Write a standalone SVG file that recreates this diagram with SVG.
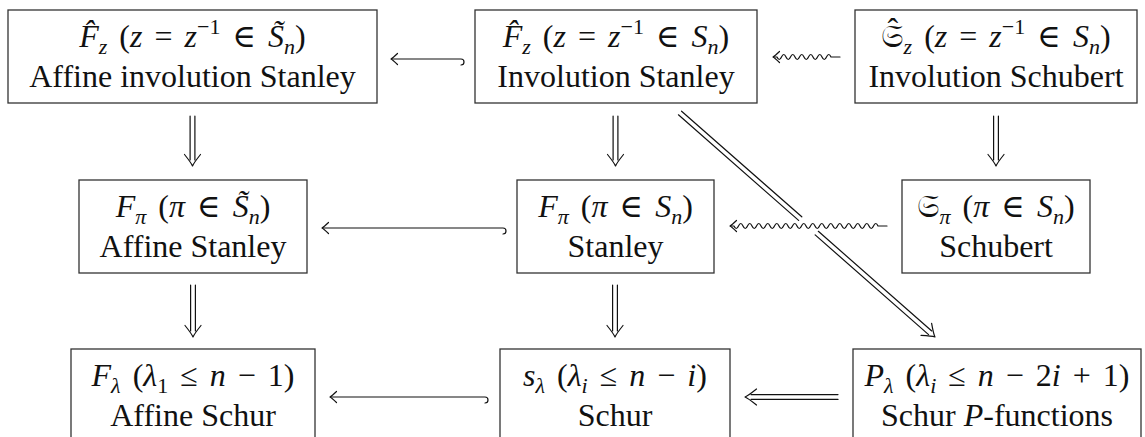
<svg xmlns="http://www.w3.org/2000/svg" xmlns:xlink="http://www.w3.org/1999/xlink" width="1145" height="437" viewBox="0 0 1145 437">
<style>
.box{fill:#fff;stroke:#333;stroke-width:1.3}
.t{font-family:"Liberation Serif","DejaVu Serif",serif;font-size:32px;fill:#111;text-anchor:middle}
.i{font-style:italic}
.sb{font-size:22px}
.fr{font-family:"DejaVu Sans","Noto Sans","DejaVu Serif",serif;font-style:normal}
.a{fill:none;stroke:#111;stroke-width:1.2;stroke-linecap:round;stroke-linejoin:round}
</style>
<defs>
<path id="sh" d="M -6.5,-5.5 Q -1.5,-0.8 0,0 Q -1.5,0.8 -6.5,5.5" class="a"/>
<path id="dh" d="M -11.5,-8 Q -3,-1.2 0,0 Q -3,1.2 -11.5,8" class="a"/>
</defs>
<rect width="1145" height="437" fill="#fff"/>
<g id="connectors">
<g id="e-b2-b1"><path class="a" d="M 391.5,59 H 461 a 3,3 0 0 1 0,6"/><use xlink:href="#sh" transform="translate(391,59) rotate(180)"/></g>
<g id="e-b3-b2"><path class="a" d="M 840,57 H 831 q -2.25,-5 -4.5,0 t -4.5,0 t -4.5,0 t -4.5,0 t -4.5,0 t -4.5,0 t -4.5,0 t -4.5,0 t -4.5,0 t -4.5,0 t -4.5,0 t -4.5,0 L 773.5,57"/><use xlink:href="#sh" transform="translate(773,57) rotate(180)"/></g>
<g id="e-b1-b4"><path class="a" d="M 190.1,116 V 160 M 194.9,116 V 160"/><use xlink:href="#dh" transform="translate(192.5,166) rotate(90)"/></g>
<g id="e-b2-b5"><path class="a" d="M 613.1,116 V 160 M 617.9,116 V 160"/><use xlink:href="#dh" transform="translate(615.5,166) rotate(90)"/></g>
<g id="e-b3-b6"><path class="a" d="M 993.6,116 V 160 M 998.4,116 V 160"/><use xlink:href="#dh" transform="translate(996,166) rotate(90)"/></g>
<g id="e-b4-b7"><path class="a" d="M 190.6,285 V 331 M 195.4,285 V 331"/><use xlink:href="#dh" transform="translate(193,337) rotate(90)"/></g>
<g id="e-b5-b8"><path class="a" d="M 612.6,285 V 331 M 617.4,285 V 331"/><use xlink:href="#dh" transform="translate(615,337) rotate(90)"/></g>
<g id="e-b5-b4"><path class="a" d="M 322.5,228 H 503 a 3,3 0 0 1 0,6"/><use xlink:href="#sh" transform="translate(322,228) rotate(180)"/></g>
<g id="e-b2-b9" transform="translate(680,113) rotate(41.3)"><path class="a" d="M 0,-2.4 H 160 M 182,-2.4 H 333 M 0,2.4 H 160 M 182,2.4 H 333"/><use xlink:href="#dh" transform="translate(339.4,0)"/></g>
<g id="e-b6-b5"><path class="a" d="M 887,226 H 878 q -2.25,-5 -4.5,0 t -4.5,0 t -4.5,0 t -4.5,0 t -4.5,0 t -4.5,0 t -4.5,0 t -4.5,0 t -4.5,0 t -4.5,0 t -4.5,0 t -4.5,0 t -4.5,0 t -4.5,0 t -4.5,0 t -4.5,0 t -4.5,0 t -4.5,0 t -4.5,0 t -4.5,0 t -4.5,0 t -4.5,0 t -4.5,0 t -4.5,0 t -4.5,0 t -4.5,0 t -4.5,0 t -4.5,0 t -4.5,0 t -4.5,0 t -4.5,0 t -4.5,0 L 730.5,226"/><use xlink:href="#sh" transform="translate(730,226) rotate(180)"/></g>
<g id="e-b8-b7"><path class="a" d="M 330.5,397 H 485 a 3,3 0 0 1 0,6"/><use xlink:href="#sh" transform="translate(330,397) rotate(180)"/></g>
<g id="e-b9-b8"><path class="a" d="M 751,394.6 H 838 M 751,399.4 H 838"/><use xlink:href="#dh" transform="translate(745,397) rotate(180)"/></g>
</g>
<g id="b1"><rect class="box" x="8" y="10" width="369" height="93"/><text class="t" x="192.5" y="47"><tspan class="i">F̂</tspan><tspan class="i sb" dy="7">z</tspan><tspan dy="-7" dx="4"> (</tspan><tspan class="i">z</tspan><tspan dx="4"> = </tspan><tspan class="i" dx="4">z</tspan><tspan class="sb" dy="-13">−1</tspan><tspan dy="13" dx="4"> ∈ </tspan><tspan class="i" dx="4">S̃</tspan><tspan class="i sb" dy="7">n</tspan><tspan dy="-7">)</tspan></text><text class="t" x="192.5" y="87">Affine involution Stanley</text></g>
<g id="b2"><rect class="box" x="475" y="10" width="282" height="93"/><text class="t" x="616" y="47"><tspan class="i">F̂</tspan><tspan class="i sb" dy="7">z</tspan><tspan dy="-7" dx="4"> (</tspan><tspan class="i">z</tspan><tspan dx="4"> = </tspan><tspan class="i" dx="4">z</tspan><tspan class="sb" dy="-13">−1</tspan><tspan dy="13" dx="4"> ∈ </tspan><tspan class="i" dx="4">S</tspan><tspan class="i sb" dy="7">n</tspan><tspan dy="-7">)</tspan></text><text class="t" x="616" y="87">Involution Stanley</text></g>
<g id="b3"><rect class="box" x="855" y="10" width="282" height="93"/><text class="t" x="996" y="47"><tspan class="fr">𝔖</tspan><tspan dx="-16" dy="-7">ˆ</tspan><tspan class="i sb" dx="5.5" dy="14">z</tspan><tspan dy="-7" dx="4"> (</tspan><tspan class="i">z</tspan><tspan dx="4"> = </tspan><tspan class="i" dx="4">z</tspan><tspan class="sb" dy="-13">−1</tspan><tspan dy="13" dx="4"> ∈ </tspan><tspan class="i" dx="4">S</tspan><tspan class="i sb" dy="7">n</tspan><tspan dy="-7">)</tspan></text><text class="t" x="996" y="87">Involution Schubert</text></g>
<g id="b4"><rect class="box" x="79" y="180" width="228" height="93"/><text class="t" x="193" y="217"><tspan class="i">F</tspan><tspan class="i sb" dy="7">π</tspan><tspan dy="-7" dx="4"> (</tspan><tspan class="i">π</tspan><tspan dx="4"> ∈ </tspan><tspan class="i" dx="4">S̃</tspan><tspan class="i sb" dy="7">n</tspan><tspan dy="-7">)</tspan></text><text class="t" x="193" y="257">Affine Stanley</text></g>
<g id="b5"><rect class="box" x="517" y="180" width="197" height="93"/><text class="t" x="615.5" y="217"><tspan class="i">F</tspan><tspan class="i sb" dy="7">π</tspan><tspan dy="-7" dx="4"> (</tspan><tspan class="i">π</tspan><tspan dx="4"> ∈ </tspan><tspan class="i" dx="4">S</tspan><tspan class="i sb" dy="7">n</tspan><tspan dy="-7">)</tspan></text><text class="t" x="615.5" y="257">Stanley</text></g>
<g id="b6"><rect class="box" x="902" y="180" width="188" height="93"/><text class="t" x="996" y="217"><tspan class="fr">𝔖</tspan><tspan class="i sb" dy="7">π</tspan><tspan dy="-7" dx="4"> (</tspan><tspan class="i">π</tspan><tspan dx="4"> ∈ </tspan><tspan class="i" dx="4">S</tspan><tspan class="i sb" dy="7">n</tspan><tspan dy="-7">)</tspan></text><text class="t" x="996" y="257">Schubert</text></g>
<g id="b7"><rect class="box" x="71" y="349" width="244" height="93"/><text class="t" x="193" y="386"><tspan class="i">F</tspan><tspan class="i sb" dy="7">λ</tspan><tspan dy="-7" dx="4"> (</tspan><tspan class="i">λ</tspan><tspan class="sb" dy="7">1</tspan><tspan dy="-7" dx="4"> ≤ </tspan><tspan class="i" dx="4">n</tspan><tspan dx="4"> − </tspan><tspan dx="4">1)</tspan></text><text class="t" x="193" y="426">Affine Schur</text></g>
<g id="b8"><rect class="box" x="500" y="349" width="230" height="93"/><text class="t" x="615" y="386"><tspan class="i">s</tspan><tspan class="i sb" dy="7">λ</tspan><tspan dy="-7" dx="4"> (</tspan><tspan class="i">λ</tspan><tspan class="i sb" dy="7">i</tspan><tspan dy="-7" dx="4"> ≤ </tspan><tspan class="i" dx="4">n</tspan><tspan dx="4"> − </tspan><tspan class="i" dx="4">i</tspan><tspan>)</tspan></text><text class="t" x="615" y="426">Schur</text></g>
<g id="b9"><rect class="box" x="853" y="349" width="288" height="93"/><text class="t" x="997" y="386"><tspan class="i">P</tspan><tspan class="i sb" dy="7">λ</tspan><tspan dy="-7" dx="4"> (</tspan><tspan class="i">λ</tspan><tspan class="i sb" dy="7">i</tspan><tspan dy="-7" dx="4"> ≤ </tspan><tspan class="i" dx="4">n</tspan><tspan dx="4"> − </tspan><tspan dx="4">2</tspan><tspan class="i">i</tspan><tspan dx="4"> + </tspan><tspan dx="4">1)</tspan></text><text class="t" x="997" y="426">Schur <tspan class="i">P</tspan>-functions</text></g>
</svg>
